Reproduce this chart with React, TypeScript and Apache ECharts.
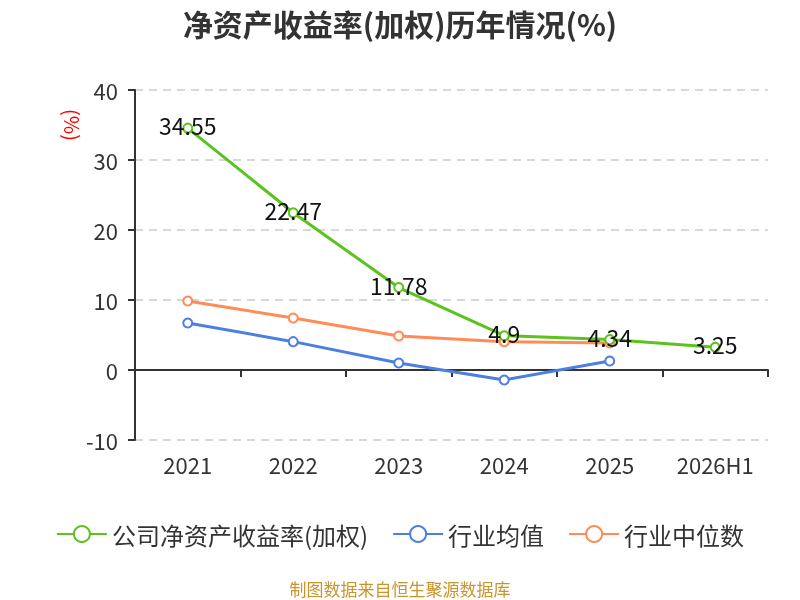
import React, { useEffect, useRef } from "react";
import * as echarts from "echarts";

const categories = ["2021", "2022", "2023", "2024", "2025", "2026H1"];
const companyRoe = [34.55, 22.47, 11.78, 4.9, 4.34, 3.25];
const industryAvg = [6.71, 4.05, 1.0, -1.43, 1.29, null];
const industryMedian = [9.86, 7.43, 4.86, 4.05, 3.86, null];
const seriesNames = ["公司净资产收益率(加权)", "行业均值", "行业中位数"];

export default function App() {
  const ref = useRef<HTMLDivElement>(null);
  useEffect(() => {
    const chart = echarts.init(ref.current!, null, { renderer: "svg" });
    const font = "'Noto Sans CJK SC', 'Noto Sans', sans-serif";
    chart.setOption({
      animation: false,
      textStyle: { fontFamily: font },
      title: {
        text: "净资产收益率(加权)历年情况(%)",
        left: "center",
        top: 3,
        textStyle: { fontSize: 30, fontWeight: "bold", color: "#333", fontFamily: font },
      },
      legend: {
        top: 517,
        left: "center",
        itemWidth: 50,
        itemHeight: 20,
        itemGap: 24,
        textStyle: { fontSize: 24, color: "#333", fontFamily: font },
        data: seriesNames,
      },
      graphic: [
        {
          type: "text",
          x: 72,
          y: 125,
          rotation: -Math.PI / 2,
          style: {
            text: "(%)",
            fill: "#ff0000",
            fontSize: 20,
            fontFamily: font,
            align: "center",
            verticalAlign: "middle",
          },
        },
        {
          type: "text",
          x: 400,
          y: 588,
          style: {
            text: "制图数据来自恒生聚源数据库",
            fill: "#c9952b",
            fontSize: 17,
            fontFamily: font,
            align: "center",
            verticalAlign: "middle",
          },
        },
      ],
      grid: { left: 135, right: 32, top: 90, bottom: 160 },
      xAxis: [
        {
          type: "category",
          data: categories,
          boundaryGap: true,
          axisLine: { show: false, onZero: false },
          axisTick: { show: false },
          axisLabel: { fontSize: 22, color: "#333", margin: 13, fontFamily: font },
        },
        {
          type: "category",
          data: categories,
          boundaryGap: true,
          position: "bottom",
          axisLine: { show: true, onZero: true, lineStyle: { color: "#333", width: 2 } },
          axisTick: { show: true, length: 7, lineStyle: { color: "#333", width: 2 } },
          axisLabel: { show: false },
        },
      ],
      yAxis: {
        type: "value",
        min: -10,
        max: 40,
        interval: 10,
        axisLine: { show: true, lineStyle: { color: "#333", width: 2 } },
        axisTick: { show: true, length: 7, lineStyle: { color: "#333", width: 2 } },
        axisLabel: { fontSize: 22, color: "#333", margin: 17, fontFamily: font },
        splitLine: { show: true, lineStyle: { color: "#ccc", type: [8, 6], width: 1.5 } },
      },
      series: [
        {
          name: seriesNames[0],
          type: "line",
          data: companyRoe,
          xAxisIndex: 0,
          symbol: "emptyCircle",
          symbolSize: 9,
          color: "#5bc41c",
          lineStyle: { width: 3 },
          z: 3,
          label: {
            show: true,
            position: "inside",
            offset: [0, -3],
            fontSize: 23,
            color: "#111",
            fontFamily: font,
          },
        },
        {
          name: seriesNames[1],
          type: "line",
          data: industryAvg,
          xAxisIndex: 0,
          symbol: "emptyCircle",
          symbolSize: 9,
          color: "#4b7fe0",
          lineStyle: { width: 3 },
          z: 2,
        },
        {
          name: seriesNames[2],
          type: "line",
          data: industryMedian,
          xAxisIndex: 0,
          symbol: "emptyCircle",
          symbolSize: 9,
          color: "#ff8b57",
          lineStyle: { width: 3 },
          z: 2,
        },
      ],
    });
    return () => chart.dispose();
  }, []);
  return (
    <div
      ref={ref}
      style={{ position: "fixed", left: 0, top: 0, width: 800, height: 600 }}
    />
  );
}
